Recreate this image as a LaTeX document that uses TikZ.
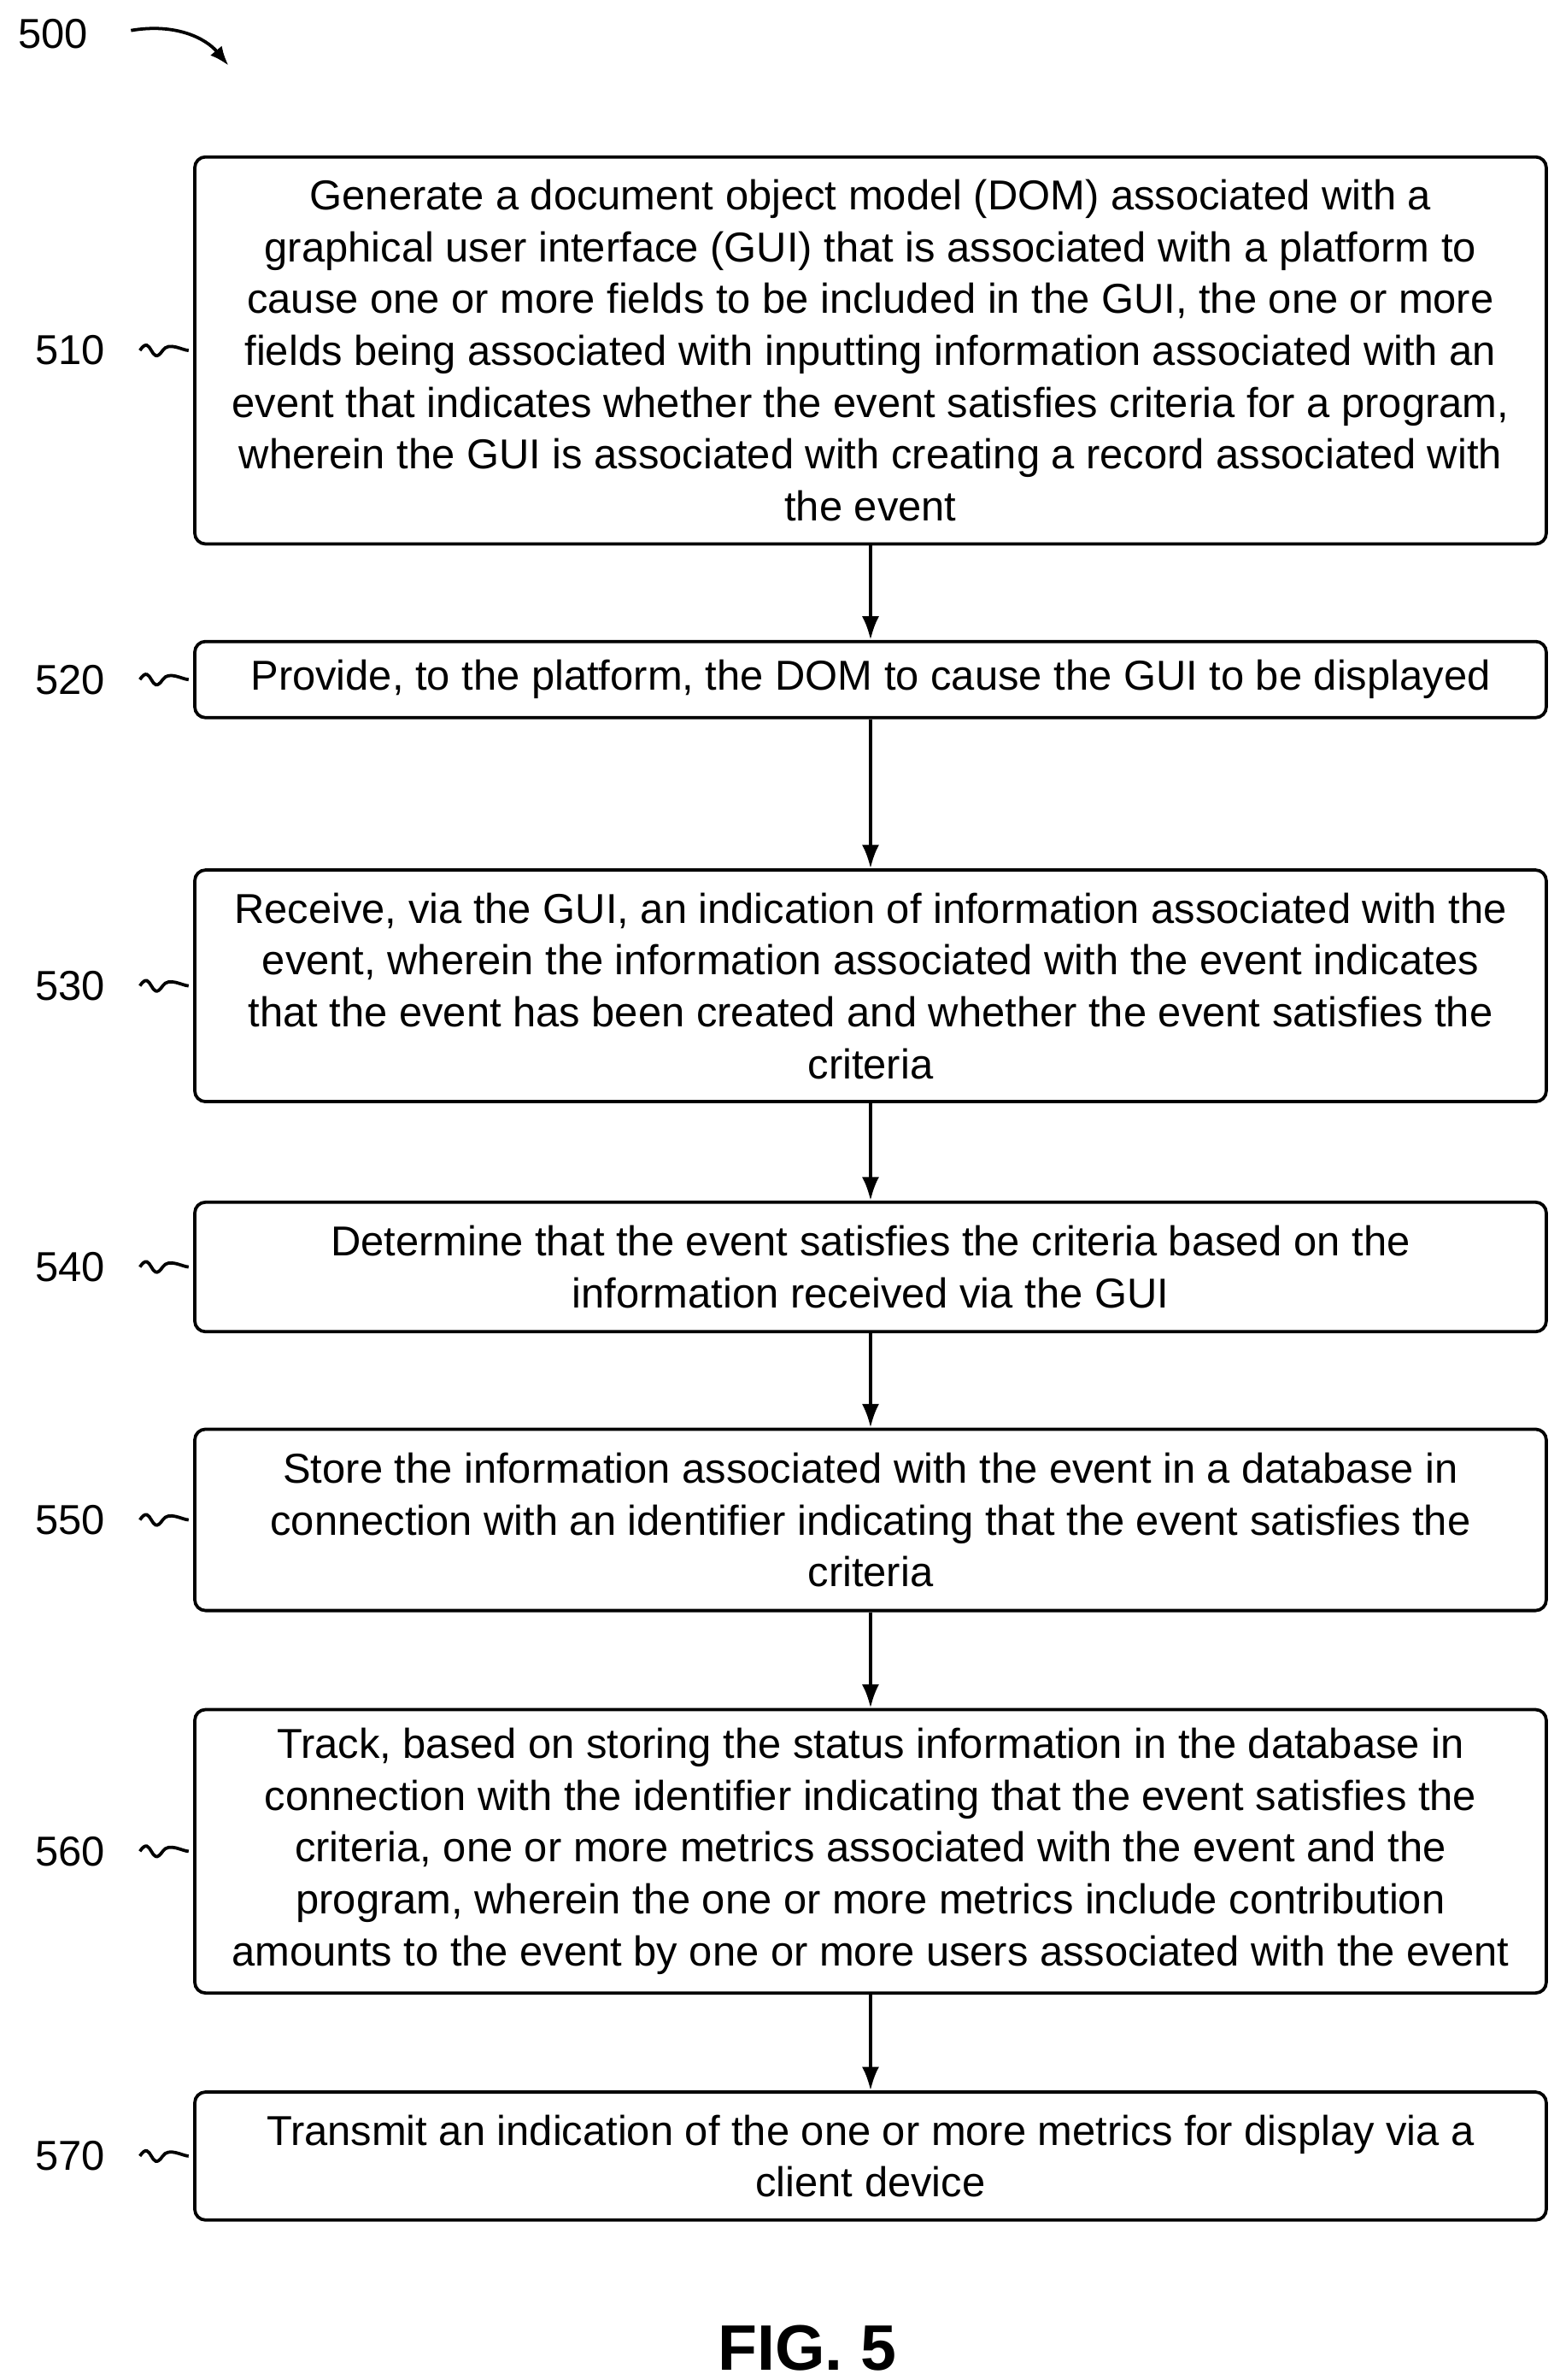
\documentclass[tikz,border=0pt]{standalone}
\usepackage{fontspec}
\setmainfont{Liberation Sans}
\usetikzlibrary{arrows.meta}
\begin{document}
\begin{tikzpicture}[x=0.025cm,y=-0.025cm,line width=1.5pt,
    stepbox/.style={draw,rounded corners=5pt,minimum width=22.175cm,
      align=center,inner sep=0pt,
      font=\fontsize{19.5}{24.2}\selectfont},
    lbl/.style={font=\fontsize{19.5}{24}\selectfont},
    flow/.style={-{Latex[length=11pt,width=8pt]}}]
  \useasboundingbox (0,0) rectangle (1024,1562);

  \node[lbl] (n500) at (35,22) {500};
  \coordinate (a500) at (86,20);
  \coordinate (b500) at (150,43);
  \draw[-{Latex[length=9pt,width=7pt]}] (a500) .. controls (115,15) and (135,25) .. (b500);

  % steps
  \node[stepbox,minimum height=254*0.025cm] (s510) at (571.5,230) {Generate a document object model (DOM) associated with a\\ graphical user interface (GUI) that is associated with a platform to\\ cause one or more fields to be included in the GUI, the one or more\\ fields being associated with inputting information associated with an\\ event that indicates whether the event satisfies criteria for a program,\\ wherein the GUI is associated with creating a record associated with\\ the event};
  \node[stepbox,minimum height=50*0.025cm] (s520) at (571.5,446) {Provide, to the platform, the DOM to cause the GUI to be displayed};
  \node[stepbox,minimum height=152*0.025cm] (s530) at (571.5,647) {Receive, via the GUI, an indication of information associated with the\\ event, wherein the information associated with the event indicates\\ that the event has been created and whether the event satisfies the\\ criteria};
  \node[stepbox,minimum height=85*0.025cm] (s540) at (571.5,831.5) {Determine that the event satisfies the criteria based on the\\ information received via the GUI};
  \node[stepbox,minimum height=119*0.025cm] (s550) at (571.5,997.5) {Store the information associated with the event in a database in\\ connection with an identifier indicating that the event satisfies the\\ criteria};
  \node[stepbox,minimum height=186*0.025cm] (s560) at (571.5,1215) {Track, based on storing the status information in the database in\\ connection with the identifier indicating that the event satisfies the\\ criteria, one or more metrics associated with the event and the\\ program, wherein the one or more metrics include contribution\\ amounts to the event by one or more users associated with the event};
  \node[stepbox,minimum height=84*0.025cm] (s570) at (571.5,1415) {Transmit an indication of the one or more metrics for display via a\\ client device};

  \foreach \s/\n in {s510/510,s520/520,s530/530,s540/540,s550/550,s560/560,s570/570}{
    \node[lbl,anchor=east] (l\n) at ([xshift=-52*0.025cm]\s.west) {\n};
    \draw ([xshift=-35*0.025cm]\s.west) .. controls +(8,-12) and +(-8,12) .. ([xshift=-20*0.025cm]\s.west)
      .. controls +(4,-6) and +(-4,0) .. ([xshift=-3*0.025cm]\s.west);
  }

  \foreach \a/\b in {s510/s520,s520/s530,s530/s540,s540/s550,s550/s560,s560/s570}
    \draw[flow] (\a) -- (\b);

  \node[font=\fontsize{30}{36}\selectfont\bfseries] (fig) at (530,1541) {FIG. 5};
\end{tikzpicture}
\end{document}
